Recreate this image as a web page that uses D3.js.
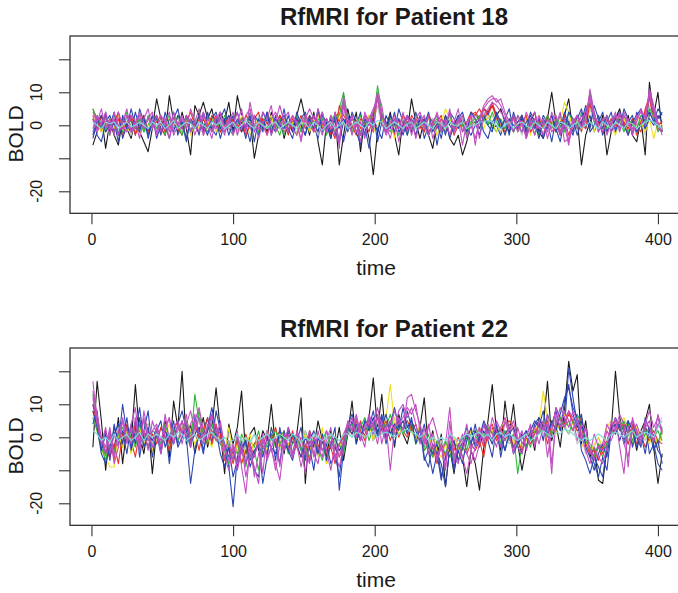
<!DOCTYPE html>
<html>
<head>
<meta charset="utf-8">
<script src="https://cdn.jsdelivr.net/npm/d3@7"></script>
<style>
  html, body { margin: 0; padding: 0; background: #fff; }
  svg { display: block; }
  text { font-family: "Liberation Sans", Arial, Helvetica, sans-serif; fill: #1a1a1a; }
</style>
</head>
<body>
<svg id="chart" width="678" height="593"></svg>
<script>
// ---- axis definitions ----
const xTicks = [0, 100, 200, 300, 400];
const yTicks = [-20, -10, 0, 10, 20];
const yTickLabels = ["-20", "", "0", "10", ""];
const panelTitles = ["RfMRI for Patient 18", "RfMRI for Patient 22"];

// BOLD signal sampled every third volume, t = 1, 4, ..., 403
const sampleTimes = d3.range(1, 406, 3);

// ---- Patient 18 ----
const p18Black = [
  -6,-2,3,-7,1,-3,-6,2,-1,-4,2,-2,-5,-8,-1,
  8,2,-3,9,1,-2,4,-1,-9,6,3,7,2,5,-1,
  4,1,7,-2,9,3,-1,2,-10,-3,2,-2,4,-1,3,
  -4,1,-2,3,8,2,-3,4,-5,-12,1,-4,3,-12,-3,
  5,-1,4,-8,2,-4,-15,-2,3,-1,4,-3,-9,2,-2,
  8,1,-4,2,-3,-7,1,-2,3,-4,-6,-3,-9,-5,1,
  3,2,5,4,6,3,5,1,-2,3,-1,2,-3,1,4,
  -2,-4,2,10,1,-3,3,8,-2,2,-12,-3,1,4,-2,
  3,-9,-2,2,5,-1,3,-3,-5,2,-9,13,3,10,-2];
const p18Red = [
  5,1,-2,3,0,-1,2,-3,1,3,-1,0,2,-2,1,
  3,-1,-3,2,0,1,-2,3,1,-1,2,-3,0,1,3,
  -2,1,-1,2,0,-2,3,1,-1,0,2,-3,1,-1,3,
  0,-2,1,2,-1,0,3,-2,1,-1,2,-3,4,1,7,
  0,-2,2,-1,3,1,-2,10,2,-1,1,-3,2,0,-2,
  3,1,-1,2,-2,0,1,3,-1,2,-3,0,1,-2,3,
  4,2,5,3,6,2,0,-1,2,-2,1,3,-1,0,2,
  -3,1,-1,2,0,-2,3,1,-1,2,-2,4,6,1,-1,
  2,-2,0,3,-1,1,-3,2,0,-2,5,9,3,-1,-2];
const p18Green = [
  5,2,-1,1,-3,2,0,-2,3,1,-1,2,-2,0,3,
  -1,1,-3,2,0,3,-1,1,-2,2,0,-1,3,-2,1,
  0,2,-1,-3,1,2,-1,0,3,-2,1,-1,2,0,-3,
  2,1,-1,3,-2,0,1,-1,2,0,-2,3,1,5,10,
  2,-1,1,-2,0,3,1,12,4,0,-2,1,-1,2,-3,
  1,0,2,-2,3,-1,1,0,-2,2,-1,3,0,-3,1,
  2,-1,3,1,0,-2,2,-1,1,3,-2,0,2,-1,1,
  -3,2,0,1,-1,3,-2,1,2,-1,4,0,10,3,-1,
  1,-2,2,0,-1,3,-2,1,-1,2,0,4,2,-1,-2];
const p18Blue = [
  2,-3,-5,1,3,-2,4,-4,0,2,-3,5,1,-2,3,
  -4,0,2,-1,4,-3,1,-5,2,0,3,-2,4,-1,-3,
  2,5,-1,3,-2,1,-4,2,0,-3,4,1,-2,3,-1,
  5,-2,1,-3,2,4,-1,0,-4,3,1,-2,2,-5,1,
  3,-2,0,4,-3,1,2,-1,-4,3,0,-2,5,1,-3,
  2,-1,3,-4,0,2,-6,1,-3,4,2,-1,3,-2,0,
  1,-3,2,4,-1,0,-3,2,5,-2,1,3,-4,2,0,
  -2,3,1,-5,2,-1,4,0,-3,2,5,-1,3,-2,1,
  4,-2,1,3,-1,5,2,-3,4,1,-1,3,5,2,4];
const p18Gray = [
  1,-2,2,0,-1,3,-2,1,0,-3,2,1,-1,2,0,
  -2,1,3,-1,0,2,-2,1,-1,2,0,-3,1,2,-1,
  0,2,-1,1,-3,0,2,1,-2,3,-1,0,1,-2,2,
  -1,3,0,-2,1,2,-1,0,-3,2,1,-1,3,0,4,
  1,-2,2,0,-1,3,1,6,0,-2,1,3,-1,2,0,
  -2,1,0,3,-1,2,-3,0,1,2,-1,0,2,-2,1,
  3,1,4,2,3,0,-2,1,-1,2,0,-3,1,2,-1,
  0,2,-2,1,3,-1,0,2,-2,1,3,0,5,1,-2,
  2,-1,1,0,-2,3,1,-1,0,2,-3,6,2,0,-1];
const p18Yellow = [
  3,1,-2,0,2,-1,3,1,-2,0,2,-3,1,0,-1,
  2,0,-2,1,3,-1,0,2,-3,1,-1,2,0,3,-2,
  1,-1,2,0,-2,3,1,-3,0,2,-1,1,3,-2,0,
  2,-1,1,-3,0,2,-2,1,3,0,-1,2,-2,4,1,
  -1,2,0,-3,1,3,-2,0,2,-1,1,-4,2,0,1,
  -2,3,1,-1,2,0,-3,1,5,2,-1,0,3,-2,1,
  0,2,-1,3,1,-2,0,-3,1,2,-1,0,2,-3,1,
  3,-1,0,2,-2,1,7,4,-1,2,0,5,1,-2,3,
  -1,2,0,-3,1,2,-1,0,3,1,-2,2,-4,1,0];
const p18Red2 = [
  2,-1,3,0,-2,1,4,-1,0,2,-3,1,3,-2,0,
  1,3,-2,0,2,-1,-3,1,4,0,-2,2,-1,3,1,
  -2,0,3,1,-1,2,-3,0,2,4,-1,1,-2,0,3,
  1,-3,2,0,3,-1,1,-2,4,0,2,-1,-4,6,3,
  1,0,-3,2,1,-2,3,8,1,-2,0,2,-1,3,1,
  -1,2,0,-2,3,1,-1,2,0,-3,1,2,-2,1,4,
  3,5,2,4,7,3,1,-2,0,2,-1,1,3,-2,0,
  2,-1,3,0,-2,1,2,-3,1,3,0,-1,7,2,1,
  -2,0,2,-1,3,1,-1,2,-3,1,4,8,2,0,1];
const p18Green2 = [
  -1,3,0,-2,2,1,-3,1,4,-1,0,2,-2,3,0,
  2,-2,1,3,-1,0,-3,2,1,-1,3,0,-2,1,2,
  -1,3,1,-2,0,2,-1,4,0,-2,1,3,-1,0,2,
  -3,1,0,2,-2,3,1,-1,0,2,-3,1,2,3,8,
  1,-2,0,3,-1,2,4,9,3,-1,2,0,-3,1,2,
  0,-1,2,1,-3,0,2,-2,1,3,-1,2,0,-2,1,
  1,3,2,0,4,1,-1,2,0,-2,3,1,-1,2,-3,
  1,0,3,-1,2,0,-2,4,1,0,-1,3,9,1,0,
  2,-1,0,3,1,-2,2,0,-1,3,1,5,3,-2,0];
const p18Blue2 = [
  -4,1,3,-2,0,4,-3,2,-1,5,0,-2,3,-4,1,
  2,-3,4,0,-2,3,1,-4,2,-1,3,0,-3,2,4,
  -1,2,-3,1,4,-2,0,3,-5,2,-1,4,0,-2,1,
  3,-1,-4,2,0,-3,3,1,-2,4,-1,2,-3,0,-5,
  1,3,-2,-6,2,0,4,-5,1,-2,3,0,2,-3,1,
  -2,4,0,2,-3,1,3,-1,2,-4,0,3,1,-2,4,
  2,-1,3,0,-2,4,1,-3,2,0,-1,3,-2,4,1,
  -4,2,0,3,-1,-5,2,1,-2,3,0,4,-1,6,2,
  -3,1,4,-2,2,0,-3,1,3,5,-1,2,0,3,1];
const p18Blue3 = [
  -3,2,-1,4,-2,1,-5,3,0,-2,4,-1,2,-3,1,
  3,-2,0,-4,2,5,-1,3,-2,1,-3,4,0,-1,2,
  -4,1,3,-2,2,-1,0,-5,3,1,-2,4,-3,2,0,
  -1,3,-2,4,0,-3,2,-1,5,-2,1,-4,3,0,2,
  -2,4,1,-3,0,-7,2,-2,3,1,-1,4,-2,0,3,
  1,-3,2,0,4,-2,1,-4,3,0,-2,2,4,-1,-3,
  0,2,-2,-4,1,3,-1,2,-3,4,0,-2,1,3,-1,
  2,-4,0,3,-2,1,-1,4,2,-3,1,6,-2,0,3,
  -1,3,-2,2,4,-1,1,3,-2,0,2,4,1,5,3];
const p18Magenta = [
  4,1,5,-1,2,-3,4,0,-2,3,1,-4,2,5,-1,
  3,-2,1,4,-3,0,2,-1,5,1,-2,3,0,-4,2,
  4,-1,2,-3,1,5,-2,7,0,-1,4,2,-3,1,6,
  1,-2,3,0,-4,2,5,2,1,-3,2,-1,4,-7,9,
  2,-3,1,-5,3,0,4,10,6,-2,1,3,-1,4,-2,
  2,-4,1,3,-2,0,4,-1,2,-3,1,5,-2,0,3,
  -6,2,6,8,9,7,8,4,1,-2,3,0,-3,2,4,
  -1,2,-4,1,3,-2,0,-6,2,-1,3,1,11,4,-2,
  1,3,-2,0,4,-1,2,-3,1,5,2,11,6,1,-3];
const p18Magenta2 = [
  -2,3,0,4,-1,2,-3,1,5,-2,0,3,-1,2,4,
  -3,1,2,-2,4,0,-1,3,-2,1,5,-3,2,0,-1,
  3,-2,1,4,-3,2,0,-1,3,-4,1,2,6,-2,0,
  2,4,-1,-3,1,3,0,-2,5,1,-2,3,-1,-5,6,
  0,3,-2,1,-4,2,5,8,1,-3,0,2,-5,1,3,
  -1,2,4,0,-3,1,3,-2,0,4,-1,2,-6,1,3,
  2,-4,3,5,7,6,4,2,-1,3,0,-2,4,1,-3,
  3,0,-2,4,1,-3,2,-5,0,3,-1,5,8,2,-1,
  2,-3,1,4,-2,3,0,-1,2,4,3,8,5,0,-2];
const p18Magenta3 = [
  3,-2,1,2,-3,4,0,-1,3,-2,1,4,-1,2,0,
  -2,3,1,-4,2,0,3,-1,2,-3,1,4,0,-2,3,
  1,-3,2,0,4,-1,3,5,-2,1,0,-3,2,4,1,
  -2,0,3,1,-5,2,-1,3,0,4,-2,1,-3,-5,7,
  -1,2,0,-3,4,1,-2,9,3,0,-4,2,1,-2,3,
  -3,1,2,-1,3,-4,0,2,-1,5,-2,1,3,-4,0,
  -4,1,5,7,8,8,6,3,0,2,-2,1,-4,0,2,
  1,-3,2,-2,0,4,-5,-4,1,3,-1,2,9,3,0,
  -2,2,0,3,-1,4,1,-2,3,2,0,10,4,-1,-2];
const p18Cyan = [
  1,0,-1,1,0.5,1,-1,0,1,-0.5,0,1,0,-1,1,
  0,1,-1,0,1.5,-1,0,1,0.5,-1,1,0,-1,1,0,
  1,-1,0,1,-1,0,1.5,0,-1,1,0,-1,0.5,1,-1,
  0,1,0,-1,1,0.5,-1,1,0,-1.5,0,1,-1,0,1,
  -1,0,1,0,-1,1,0,1.5,1,-1,0,1,0,-1,0.5,
  1,-1,0,1,0,-1,1,0.5,-1,1,0,0,1,-1,0,
  0,1,1,1.5,1,0,-1,0,1,-1,0.5,1,0,-1,1,
  0,-1,1,0,-1,1,0.5,-1,0,1,-1,0,1,0,-1,
  1,0,-1,1,0,-1,1,0.5,-1,0,1,1.5,1,0,-1];

// ---- Patient 22 ----
const p22Black = [
  -3,17,5,-10,2,-4,6,-8,3,-2,16,1,-5,4,-11,
  2,-3,5,-6,11,3,20,-2,4,-5,1,6,-3,3,15,
  2,-11,4,-2,3,14,-6,1,3,-4,2,-1,10,-3,2,
  -5,3,-2,1,12,-14,2,-3,5,-1,-6,2,-4,3,-7,
  1,11,-2,4,0,6,18,2,13,-1,5,-3,7,1,-2,
  4,-1,3,12,-4,2,-6,1,-15,-3,-11,-2,-6,-15,-4,
  -8,-16,-3,5,16,2,-4,11,1,10,-2,-10,-3,2,-4,
  6,3,17,-1,4,-3,8,23,14,19,-2,5,-6,-3,-13,
  -14,-3,2,20,6,1,-2,3,-4,2,5,10,-3,-14,-5];
const p22Red = [
  10,3,-2,-5,1,-7,2,-3,4,-1,-6,2,0,3,-4,
  1,-3,4,-2,2,-1,3,5,0,2,-4,3,-2,1,4,
  -1,-6,-3,-8,-2,-5,1,-4,-2,0,-3,2,-1,3,-2,
  1,-4,2,-3,0,-5,2,-1,-3,1,-4,-2,0,-6,-3,
  2,4,1,5,0,3,2,6,1,4,-1,3,5,2,0,
  4,-1,3,-4,-2,-6,-1,-3,-5,-2,-4,0,-3,1,2,
  -2,1,-3,0,3,-1,2,4,5,3,-2,1,-3,0,2,
  1,4,-2,3,6,2,5,8,4,3,6,-1,-3,-6,-2,
  -5,-2,4,1,5,3,-2,4,0,-2,3,1,-1,-3,2];
const p22Green = [
  13,4,-1,-6,2,-4,1,-2,3,0,-3,2,5,-1,1,
  -2,3,0,-4,2,-1,4,1,-3,13,5,2,-2,4,1,
  3,-5,-2,-7,0,-4,-9,-1,-3,2,-5,-2,1,-3,0,
  2,-3,1,-1,-4,2,-2,0,-5,-1,2,-3,-1,-4,-2,
  1,3,5,2,4,-1,3,6,2,0,4,1,3,5,2,
  3,0,2,-3,1,-5,-2,-4,-1,-6,-2,-3,0,-4,1,
  2,0,4,1,-2,3,0,2,-1,1,-11,-2,0,-3,2,
  1,3,0,5,2,4,3,1,5,2,4,0,-2,-4,-3,
  -6,-1,2,4,3,5,1,-2,3,0,2,-1,1,-2,3];
const p22Blue = [
  10,6,-3,2,-7,4,-2,10,1,-3,5,-6,2,8,-4,
  1,-5,3,-8,2,-2,5,0,-14,-4,3,1,6,-2,8,
  2,-3,-9,-21,-6,-1,-8,-3,-10,-12,-2,-5,1,-7,3,
  -4,2,-6,1,-3,-7,-1,2,-5,0,-8,-2,3,-16,-4,
  1,5,-2,4,2,6,-1,3,7,0,4,-2,5,1,8,
  3,-1,4,-6,-9,-2,-5,-8,-15,-3,-10,-4,-1,3,-2,
  4,-3,2,-1,-6,3,1,-4,2,-3,-1,-5,2,0,3,
  5,-1,7,2,9,6,3,21,12,4,7,-2,-4,-8,-12,
  -6,-10,2,4,-1,3,5,-3,1,-2,4,-5,-2,-8,-10];
const p22Gray = [
  6,2,-3,1,-4,0,3,-2,1,-1,2,-3,0,4,-2,
  1,-2,3,0,2,-1,4,1,-3,2,5,0,-1,3,1,
  -2,-5,-1,-4,-3,0,-6,-2,1,-3,-1,2,-2,0,-4,
  1,-2,0,-3,-1,2,-4,1,-2,0,-3,1,-1,-5,0,
  2,0,3,1,4,2,0,5,1,3,2,6,3,1,4,
  2,-1,1,-2,-4,0,-3,-1,-5,-2,0,-3,-1,2,0,
  1,3,0,2,-1,4,1,2,-2,0,-3,1,-1,2,4,
  3,1,5,2,6,3,4,1,3,-2,0,-5,-2,-3,0,
  -4,-1,3,2,4,1,-1,3,0,2,-1,3,1,4,6];
const p22Yellow = [
  8,2,-4,-6,-9,-9,1,-3,2,-5,0,3,-2,1,-4,
  2,-3,1,4,-1,3,0,5,2,-2,1,4,0,-3,2,
  -1,-4,3,-6,-2,-8,-3,1,-5,0,-2,-4,3,-1,-3,
  2,-2,-5,0,-3,1,-4,-1,-6,3,-8,-2,0,-3,1,
  3,1,5,2,0,4,-1,3,2,6,16,4,1,3,5,
  2,-1,4,0,-3,1,-4,-6,-2,-5,0,-3,-7,-1,2,
  1,3,-1,4,2,0,3,5,1,-2,0,-4,-1,2,2,
  4,14,6,3,1,5,7,3,4,2,-3,-1,-5,-2,0,
  -3,3,5,1,4,6,2,-1,3,0,1,-2,2,-3,1];
const p22Red2 = [
  8,4,-1,-4,-6,-2,-8,1,3,-2,4,-1,2,-3,1,
  -2,3,0,-4,2,5,1,3,-1,4,0,2,6,-2,3,
  1,-7,-3,-5,-1,-8,-4,-2,-6,0,-3,-5,1,-2,2,
  -1,-4,0,-3,-6,-2,-7,-1,-4,1,-5,-3,-8,-2,0,
  3,1,5,2,-1,4,3,6,2,5,1,4,0,3,5,
  2,4,-1,1,-5,-3,-8,-2,-6,-4,-1,-7,-3,-5,-2,
  -4,-1,-6,2,4,0,3,-1,2,-3,-1,-4,0,-2,1,
  4,2,5,1,3,6,4,7,5,2,3,-2,-5,-4,-7,
  -3,-1,3,5,2,4,1,3,-2,1,-3,0,2,-1,-2];
const p22Green2 = [
  6,2,-3,-7,-2,-5,1,3,-1,2,-2,4,0,-3,2,
  1,-2,4,0,3,-1,2,5,1,3,8,0,2,4,-1,
  -2,-4,-8,-3,-5,1,-2,-6,-4,-10,-1,-3,0,2,-2,
  0,-5,-2,1,-4,-3,-6,-1,-3,-7,-2,0,-4,-2,-5,
  2,4,0,3,6,2,4,1,5,3,7,2,4,1,3,
  5,-2,0,-4,-2,-6,-1,-3,-5,-1,-7,-2,-4,0,-3,
  -1,2,0,3,1,4,-2,2,0,-4,-2,1,-3,0,-1,
  2,5,3,1,4,6,3,5,2,7,4,-1,-3,-6,-2,
  -4,-2,1,3,5,2,4,-1,2,-2,1,3,0,2,-1];
const p22Blue2 = [
  4,8,-4,1,-6,3,-1,2,-5,4,-2,6,-3,1,-1,
  3,-4,2,-1,5,-3,0,4,-2,1,3,-4,2,7,0,
  3,-2,-6,-4,-9,-3,-1,-7,-4,-2,-6,0,-3,-5,2,
  -1,-4,1,-2,-6,0,-3,-1,-5,1,-7,-2,0,-4,-2,
  3,1,4,-1,5,2,6,0,3,7,1,4,2,9,3,
  5,2,-1,4,-3,-5,-2,-12,-6,-4,-1,-7,-3,1,-2,
  2,-1,4,1,-2,3,0,-4,1,3,-2,0,2,-1,4,
  6,3,1,4,8,2,11,16,7,3,5,-3,-6,-10,-5,
  -2,-6,3,1,4,-2,2,5,0,-3,6,2,-4,-1,-8];
const p22Blue3 = [
  8,3,-5,-8,-3,1,4,-2,6,-4,2,9,-1,3,-6,
  2,5,-3,1,-2,4,8,2,-3,6,1,-5,3,9,2,
  -5,-9,-3,-12,-7,-4,-1,-9,-5,-2,-14,-6,3,-2,-8,
  2,-4,-7,-1,3,-6,-3,-10,0,-4,-2,-8,-5,-12,-1,
  4,7,2,-1,5,3,8,1,6,-2,4,9,3,5,1,
  6,-2,3,-7,-4,-11,-5,-13,-6,-2,-9,-4,-8,-1,3,
  -3,0,5,2,-1,4,-6,1,3,-5,-2,1,-4,2,5,
  3,8,1,5,2,7,12,15,9,6,-4,-7,-11,-6,-9,
  -12,-3,2,6,3,-1,5,2,-3,1,-5,3,0,-4,-6];
const p22Magenta = [
  17,5,-2,3,-5,1,-3,6,-1,4,9,-2,2,-4,5,
  1,-3,7,-1,3,5,-2,4,8,2,6,-1,3,7,1,
  4,-4,-1,-7,2,-9,-17,-3,-6,-1,-11,2,-4,-8,-13,
  -2,3,-5,1,-3,-11,0,-6,2,-4,-1,3,-7,-2,1,
  4,2,6,-1,3,5,1,7,-2,4,-10,3,6,2,12,
  13,8,4,-2,3,6,1,-4,-2,9,-6,-3,1,-5,-8,
  -3,2,-1,4,1,-3,3,6,2,5,-1,2,-4,1,3,
  -2,3,4,-11,7,3,8,5,2,6,-1,3,-5,1,-3,
  -2,4,1,6,-3,-11,3,5,2,-1,4,8,3,6,1];
const p22Magenta2 = [
  12,4,0,-3,3,-6,2,5,-2,3,1,-4,6,-1,2,
  4,-1,3,6,-2,2,5,0,4,7,1,-2,4,2,-1,
  5,-3,-7,-2,-10,-4,-8,-2,-12,-5,1,-6,-3,0,-9,
  1,-3,-6,2,-1,-4,-8,0,-3,-6,2,-2,-5,-9,-3,
  3,6,0,4,2,7,3,-2,5,1,3,8,4,6,9,
  7,10,2,-1,4,-3,-6,-2,-9,1,-5,-8,-2,4,-4,
  0,3,-2,2,-1,5,2,-1,4,2,-3,-5,1,3,-2,
  2,5,-6,2,9,5,3,8,6,-1,4,2,-4,-7,-3,
  -4,2,-1,3,5,-2,-6,2,4,0,3,5,-1,4,2];
const p22Magenta3 = [
  14,7,0,-5,2,-8,-3,5,2,-2,6,-4,8,1,-3,
  3,-5,2,6,-2,4,1,7,-3,5,9,2,-1,6,3,
  -1,-6,-10,-3,-8,-2,-12,-5,-9,-14,0,-7,-3,-10,-2,
  -4,1,-6,-2,-9,-3,2,-5,-8,0,-4,-10,-2,-6,-1,
  5,2,7,1,-3,6,4,9,3,-1,5,2,8,10,6,
  9,4,-2,3,-5,1,-7,-3,-10,5,-8,-2,-6,-11,-4,
  -7,-2,4,-1,6,2,-3,5,1,-5,3,-2,0,4,-3,
  5,2,7,-8,4,9,6,3,8,5,1,-4,-8,-3,-6,
  -8,-3,5,2,7,4,-9,6,1,-2,5,3,-1,7,2];
const p22Cyan = [
  2,1,-1,0,-1.5,1,-1,0,1,-1,0,1.5,-1,1,0,
  1,0,-1,1,0,1.5,1,-1,0,1,-1,0,1,1.5,0,
  -1,0,-1.5,-1,1,-1,0,-1.5,1,-1,0,1,-1,0,1,
  0,-1,1,0,-1.5,0,-1,1,0,-1,0,1,0,-1,1,
  1,0,1.5,1,0,1,2,0,1,1.5,1,0,1,2,2.5,
  1.5,1,0,1,-1,0,-1,0,-1,1,0,-1,0,1,0,
  1,1.5,0,1,-1,1,1.5,0,1,0,-1,0,1,-1,0,
  1,2,1,0,1.5,1,2.5,2,1,0,-1,0,-1,0,1,
  0,-1,1,1.5,1,0,1,2,0,1,1.5,1,0,3,5];

// draw order and colours (black first, light cyan last)
const seriesColors = ["#1a1a1a", "#e8322b", "#2db83a", "#2b46b1", "#c4c4c4",
                      "#efdf1c", "#e8322b", "#2db83a", "#2b46b1", "#2b46b1",
                      "#c24fc2", "#c24fc2", "#c24fc2", "#7edcd8"];
const patient18Series = [p18Black, p18Red, p18Green, p18Blue, p18Gray, p18Yellow,
                         p18Red2, p18Green2, p18Blue2, p18Blue3,
                         p18Magenta, p18Magenta2, p18Magenta3, p18Cyan];
const patient22Series = [p22Black, p22Red, p22Green, p22Blue, p22Gray, p22Yellow,
                         p22Red2, p22Green2, p22Blue2, p22Blue3,
                         p22Magenta, p22Magenta2, p22Magenta3, p22Cyan];

// ---- layout ----
const svg = d3.select("#chart");
svg.append("rect").attr("width", 678).attr("height", 593).attr("fill", "#fff");

const plotLeft = 70, plotRight = 687.9, plotTop = 36, plotBottom = 213.3;
const panelGap = 312;

const x = d3.scaleLinear().domain([-15.16, 421.16]).range([plotLeft, plotRight]);
const y = d3.scaleLinear().domain([-26.67, 27.06]).range([plotBottom, plotTop]);

function drawPanel(index, seriesList) {
  const g = svg.append("g").attr("transform", `translate(0,${index * panelGap})`);
  const clipId = `clip-${index}`;
  g.append("clipPath").attr("id", clipId)
    .append("rect")
    .attr("x", plotLeft).attr("y", plotTop)
    .attr("width", plotRight - plotLeft).attr("height", plotBottom - plotTop);

  const line = d3.line()
    .x(d => x(d[0]))
    .y(d => y(d[1]));

  const lines = g.append("g").attr("clip-path", `url(#${clipId})`);
  seriesList.forEach((vals, i) => {
    const pts = vals.map((v, j) => [sampleTimes[j], v]).filter(d => d[0] !== undefined);
    lines.append("path")
      .datum(pts)
      .attr("fill", "none")
      .attr("stroke", seriesColors[i])
      .attr("stroke-width", 1.1)
      .attr("stroke-linejoin", "round")
      .attr("d", line);
  });

  // plot frame
  g.append("rect")
    .attr("x", plotLeft).attr("y", plotTop)
    .attr("width", plotRight - plotLeft).attr("height", plotBottom - plotTop)
    .attr("fill", "none").attr("stroke", "#222").attr("stroke-width", 1.2);

  // x axis
  const xAxis = d3.axisBottom(x).tickValues(xTicks).tickSize(11).tickSizeOuter(0).tickPadding(9);
  const xg = g.append("g").attr("transform", `translate(0,${plotBottom})`).call(xAxis);
  xg.select(".domain").remove();
  xg.selectAll(".tick line").attr("stroke", "#333").attr("stroke-width", 1.1);
  xg.selectAll(".tick text")
    .attr("font-size", 16)
    .attr("font-family", '"Liberation Sans", Arial, sans-serif')
    .attr("fill", "#1a1a1a");

  // y axis (ticks), rotated labels
  const yAxis = d3.axisLeft(y).tickValues(yTicks).tickSize(11).tickSizeOuter(0).tickFormat("");
  const yg = g.append("g").attr("transform", `translate(${plotLeft},0)`).call(yAxis);
  yg.select(".domain").remove();
  yg.selectAll(".tick line").attr("stroke", "#333").attr("stroke-width", 1.1);

  g.append("g").selectAll("text")
    .data(yTicks.map((v, i) => ({ v, label: yTickLabels[i] })).filter(d => d.label))
    .join("text")
    .attr("transform", d => `translate(41.5,${y(d.v)}) rotate(-90)`)
    .attr("text-anchor", "middle")
    .attr("font-size", 16)
    .text(d => d.label);

  // titles
  g.append("text")
    .attr("x", 394).attr("y", 25)
    .attr("text-anchor", "middle")
    .attr("font-size", 24).attr("font-weight", "bold")
    .text(panelTitles[index]);

  g.append("text")
    .attr("x", 376).attr("y", 275)
    .attr("text-anchor", "middle")
    .attr("font-size", 21)
    .text("time");

  g.append("text")
    .attr("transform", "translate(23.3,134) rotate(-90)")
    .attr("text-anchor", "middle")
    .attr("font-size", 21)
    .text("BOLD");
}

drawPanel(0, patient18Series);
drawPanel(1, patient22Series);
</script>
</body>
</html>
